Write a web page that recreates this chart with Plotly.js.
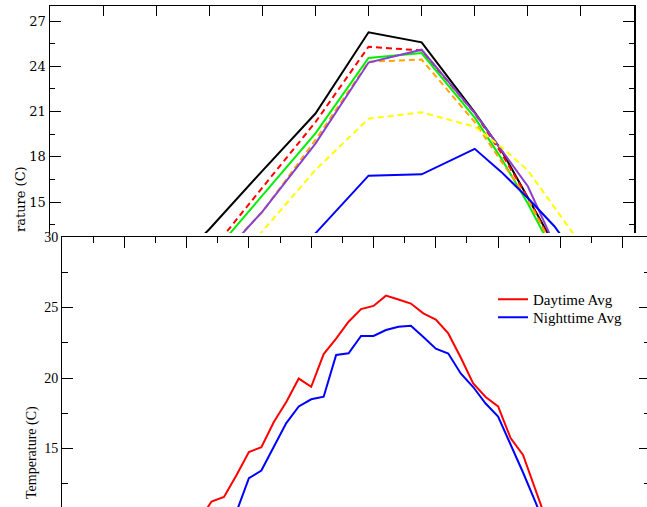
<!DOCTYPE html>
<html><head><meta charset="utf-8">
<script src="https://cdn.plot.ly/plotly-3.0.1.min.js"></script>
<style>
html,body{margin:0;padding:0;background:#fff;overflow:hidden}
#wrap{width:647px;height:507px;overflow:hidden;position:relative}
#chart{width:652px;height:540px}
</style></head>
<body><div id="wrap"><div id="chart"></div></div>
<script>
// ---- top panel (monthly index) ----
const monthIdx = [2, 3, 4, 5, 6, 7, 8, 8.5, 9, 9.5, 10];
const lineBlack  = [9.6, 13.2, 17.07, 20.87, 26.26, 25.59, 20.95, 18.45, 15.3, 12.0, 9.0];
const lineRed    = [7.5, 11.6, 15.96, 20.3, 25.3, 25.05, 20.9, 18.25, 15.3, 11.9, 9.0];
const lineGreen  = [7.2, 11.3, 15.42, 19.55, 24.55, 24.88, 20.6, 17.9, 14.9, 11.6, 8.8];
const lineOrange = [6.8, 10.7, 14.34, 19.12, 24.3, 24.45, 20.3, 17.7, 15.2, 11.8, 9.0];
const linePurple = [6.5, 10.5, 14.37, 18.88, 24.25, 25.1, 20.9, 18.45, 16.05, 12.2, 9.3];
const lineYellow = [5.5, 9.2, 13.06, 17.13, 20.53, 20.95, 20.0, 18.65, 17.1, 14.65, 12.2];
const lineBlue   = [5.0, 7.0, 9.0, 12.93, 16.75, 16.84, 18.53, 17.0, 15.27, 13.4, 11.0];
const topYTicks = [15, 18, 21, 24, 27];
const topYMinor = [13.5, 16.5, 19.5, 22.5, 25.5];
const topTitle = 'rature (C)';

// ---- bottom panel (weekly index) ----
const dayWeeks = [11,12,13,14,15,16,17,18,19,20,21,22,23,24,25,26,27,28,29,30,31,32,33,34,35,36,37,38,39];
const daytimeAvg = [9.9, 11.24, 11.56, 13.1, 14.75, 15.1, 16.88, 18.3, 19.96, 19.38, 21.7, 22.8, 23.99, 24.89, 25.11, 25.84, 25.57, 25.28, 24.59, 24.15, 23.16, 21.45, 19.62, 18.65, 17.98, 15.74, 14.54, 12.13, 9.6];
const nightWeeks = [14,15,16,17,18,19,20,21,22,23,24,25,26,27,28,29,30,31,32,33,34,35,36,37,38,39];
const nighttimeAvg = [10.5, 12.89, 13.44, 15.1, 16.8, 17.98, 18.49, 18.67, 21.63, 21.75, 22.98, 22.98, 23.4, 23.64, 23.7, 22.91, 22.08, 21.74, 20.32, 19.36, 18.19, 17.27, 15.32, 13.3, 11.2, 9.0];
const bottomYTicks = [15, 20, 25, 30];
const bottomYMinor = [12.5, 17.5, 22.5, 27.5];
const legendNames = ['Daytime Avg', 'Nighttime Avg'];
const bottomTitle = 'Temperature (C)';

const W = 652, H = 540;
const SERIF = 'Liberation Serif, Times New Roman, serif';
const WIDE = 'DejaVu Serif, serif';

function topTrace(y, color, dash) {
  return {x: monthIdx, y: y, xaxis: 'x', yaxis: 'y', mode: 'lines', showlegend: false,
          line: {color: color, width: 2, dash: dash || 'solid'}, hoverinfo: 'skip'};
}
const traces = [
  topTrace(lineBlack, '#000000'),
  topTrace(lineRed, '#ff0000', '6px,4px'),
  topTrace(lineGreen, '#00ee00'),
  topTrace(lineOrange, '#ffa500', '6px,4px'),
  topTrace(linePurple, '#8a3fd0'),
  topTrace(lineYellow, '#ffff00', '6px,4px'),
  topTrace(lineBlue, '#0000ff'),
  {x: dayWeeks, y: daytimeAvg, xaxis: 'x2', yaxis: 'y2', mode: 'lines', name: legendNames[0],
   legend: 'legend', line: {color: '#ff0000', width: 2}},
  {x: nightWeeks, y: nighttimeAvg, xaxis: 'x2', yaxis: 'y2', mode: 'lines', name: legendNames[1],
   legend: 'legend2', line: {color: '#0000ff', width: 2}}
];

const axCommon = {showgrid: false, zeroline: false, showline: true, linecolor: '#000', linewidth: 1,
                  tickcolor: '#000', ticks: 'inside', tickwidth: 1};
const legFont = {family: SERIF, size: 15, color: '#000'};

const layout = {
  width: W, height: H,
  margin: {l: 0, r: 0, t: 0, b: 0},
  paper_bgcolor: '#fff', plot_bgcolor: '#fff',
  font: {family: SERIF, size: 13, color: '#000'},
  showlegend: true,
  legend: {x: 493 / W, y: 1 - 283 / H, xanchor: 'left', yanchor: 'top', bgcolor: 'rgba(0,0,0,0)', font: legFont},
  legend2: {x: 493 / W, y: 1 - 301 / H, xanchor: 'left', yanchor: 'top', bgcolor: 'rgba(0,0,0,0)', font: legFont},
  xaxis: Object.assign({}, axCommon, {
    domain: [50 / W, 634 / W], range: [0, 11], side: 'top', anchor: 'y', mirror: false,
    dtick: 1, tick0: 0, ticklen: 10, showticklabels: false}),
  yaxis: Object.assign({}, axCommon, {
    domain: [1 - 233 / H, 1 - 6 / H], range: [12.95, 28], anchor: 'x', mirror: 'ticks',
    tickmode: 'array', tickvals: topYTicks, ticklen: 11, linewidth: 1.5,
    minor: {tickmode: 'array', tickvals: topYMinor, ticklen: 5, ticks: 'inside', tickcolor: '#000', showgrid: false},
    tickfont: {family: WIDE, size: 13, color: '#000'}}),
  xaxis2: Object.assign({}, axCommon, {
    domain: [62 / W, 650 / W], range: [0, 47.19], side: 'top', anchor: 'y2', mirror: false,
    dtick: 5, tick0: 0, ticklen: 11, showticklabels: false,
    minor: {dtick: 2.5, tick0: 0, ticklen: 6, ticks: 'inside', tickcolor: '#000', showgrid: false}}),
  yaxis2: Object.assign({}, axCommon, {
    domain: [1 - 535 / H, 1 - 237 / H], range: [8.865, 30], anchor: 'x2', mirror: 'ticks',
    tickmode: 'array', tickvals: bottomYTicks, ticklen: 11,
    minor: {tickmode: 'array', tickvals: bottomYMinor, ticklen: 6, ticks: 'inside', tickcolor: '#000', showgrid: false},
    tickfont: {family: SERIF, size: 14, color: '#000'}}),
  annotations: [
    {text: topTitle, xref: 'paper', yref: 'paper', x: 21 / W, y: 1 - 199 / H, textangle: -90,
     showarrow: false, xanchor: 'center', yanchor: 'middle', font: {family: WIDE, size: 13, color: '#000'}},
    {text: bottomTitle, xref: 'paper', yref: 'paper', x: 32 / W, y: 1 - 453 / H, textangle: -90,
     showarrow: false, xanchor: 'center', yanchor: 'middle', font: {family: SERIF, size: 14, color: '#000'}}
  ]
};

Plotly.newPlot('chart', traces, layout, {displayModeBar: false, staticPlot: true});
</script>
</body></html>
